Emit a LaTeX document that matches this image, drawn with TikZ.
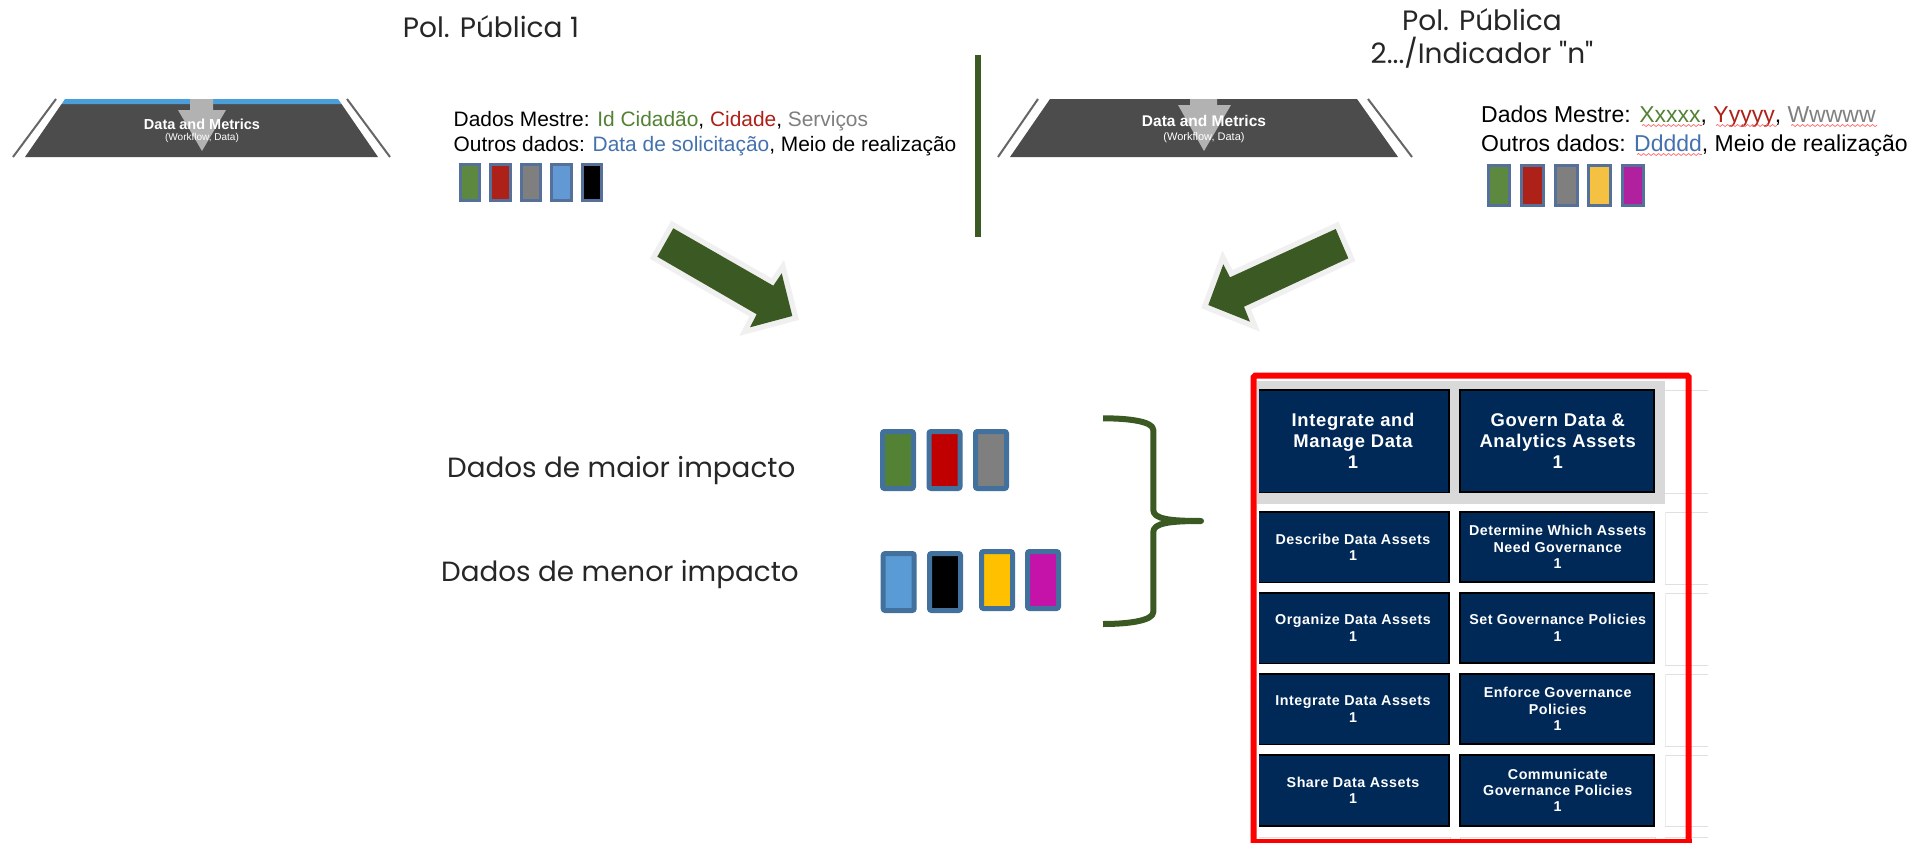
\documentclass[tikz,border=0pt]{standalone}
\usepackage{fontspec}
\usetikzlibrary{decorations.pathmorphing}
\setmainfont{Liberation Sans}
\newfontfamily\popf{Poppins}
\newfontfamily\cellf[LetterSpace=3.5]{Liberation Sans}
\definecolor{gdark}{HTML}{3B5A23}
\definecolor{gout}{HTML}{F0F0F0}
\definecolor{navy}{HTML}{012957}
\definecolor{swb}{HTML}{41719C}
\definecolor{swb2}{HTML}{557199}
\definecolor{tgreen}{HTML}{548235}
\definecolor{tred}{HTML}{AD2118}
\definecolor{tgrey}{HTML}{7F7F7F}
\definecolor{tblue}{HTML}{4472B0}
\definecolor{topblue}{HTML}{4A9FDB}
\tikzset{
  title/.style={font=\popf\fontsize{28}{33}\selectfont,align=center,text=black!85,inner sep=0pt,anchor=base},
  mid/.style={font=\popf\fontsize{27.8}{33}\selectfont,text=black!85,inner sep=0pt,anchor=base west},
  lefttxt/.style={font=\fontsize{20.9}{24}\selectfont,inner sep=0pt,anchor=base west},
  righttxt/.style={font=\fontsize{23}{27}\selectfont,inner sep=0pt,anchor=base west},
  sws/.style={draw=swb2,line width=3pt,minimum width=19.5pt,minimum height=36pt,inner sep=0pt},
  swr/.style={draw=swb2,line width=3pt,minimum width=21.5pt,minimum height=40pt,inner sep=0pt},
  swm/.style={draw=swb,line width=5pt,rounded corners=2pt,minimum width=31pt,minimum height=57pt,inner sep=0pt},
  trap/.style={fill=black!70},
  sideline/.style={draw=black!60,line width=2pt},
  flow/.style={fill=black!30},
  bigarrow/.style={fill=gdark,preaction={draw=gout,line width=11pt,miter limit=10}},
  dm/.style={text=white,font=\bfseries\fontsize{#1}{#1}\selectfont,inner sep=0pt},
  dms/.style={text=white,font=\fontsize{#1}{#1}\selectfont,inner sep=0pt},
  bigcell/.style={draw=black,line width=2pt,fill=navy},
  cellbig/.style={text=white,align=center,inner sep=0pt,font=\cellf\bfseries\fontsize{18.4}{21}\selectfont},
  cellsm/.style={text=white,align=center,inner sep=0pt,font=\cellf\bfseries\fontsize{14.3}{16.4}\selectfont},
  grid/.style={draw=black!12,line width=.7pt},
  gridv/.style={draw=black!7,line width=.7pt},
  wav/.style={draw=red!60,line width=.7pt,decorate,decoration={snake,amplitude=1pt,segment length=5pt}},
}
\begin{document}
\begin{tikzpicture}[x=1pt,y=-1pt]
\useasboundingbox[fill=white] (0,0) rectangle (1927,843);
% titles
\node[title] (t1) at (491,37.5) {Pol. Pública 1};
\node[title] (t2) at (1482,30.5) {Pol. Pública};
\node[title] (t3) at (1482,63.5) {2.../Indicador "n"};
% left trapezoid
\draw[sideline] (13,157) -- (56,99);
\draw[sideline] (347,99) -- (390,157);
\fill[trap] (61.6,104) -- (341.5,104) -- (378,157) -- (25,157) -- cycle;
\fill[topblue] (65,99) -- (338,99) -- (341.5,104) -- (61.6,104) -- cycle;
\fill[flow] (190,99) -- (213,99) -- (213,110) -- (226,110) -- (202,151) -- (178,110) -- (190,110) -- cycle;
\node[dm=14.5] (d1) at (202,124) {Data and Metrics};
\node[dms=10] (d1s) at (202,138) {(Workflow, Data)};
% right trapezoid
\draw[sideline] (998,157) -- (1038,99);
\draw[sideline] (1368,99) -- (1412,157);
\fill[trap] (1050,99) -- (1357,99) -- (1398,157) -- (1010,157) -- cycle;
\fill[flow] (1190,99) -- (1217,99) -- (1217,105) -- (1231,105) -- (1204,151) -- (1178,105) -- (1190,105) -- cycle;
\node[dm=15.5] (d2) at (1204,121) {Data and Metrics};
\node[dms=11] (d2s) at (1204,137.5) {(Workflow, Data)};
% left text
\node[lefttxt] (l1) at (453.5,126.5) {Dados Mestre: \textcolor{tgreen}{Id Cidadão}, \textcolor{tred}{Cidade}, \textcolor{tgrey}{Serviços}};
\node[lefttxt] (l2) at (453.5,151.5) {Outros dados: \textcolor{tblue}{Data de solicitação}, Meio de realização};
% right text
\node[righttxt] (r1) at (1481,122.5) {Dados Mestre: \textcolor{tgreen}{Xxxxx}, \textcolor{tred}{Yyyyy}, \textcolor{tgrey}{Wwwww}};
\node[righttxt] (r2) at (1481,151.5) {Outros dados: \textcolor{tblue}{Ddddd}, Meio de realização};
\draw[wav] (1642,125.5) -- (1702,125.5);
\draw[wav] (1716,125.5) -- (1777,125.5);
\draw[wav] (1791,125.5) -- (1877,125.5);
\draw[wav] (1637,154.5) -- (1702,154.5);
% left swatches
\node[sws,fill=tgreen!95!white] (a1) at (470,182) {};
\node[sws,fill=tred] (a2) at (500.5,182) {};
\node[sws,fill=tgrey] (a3) at (531,182) {};
\node[sws,fill={rgb,255:red,98;green,152;blue,212}] (a4) at (561.5,182) {};
\node[sws,fill=black] (a5) at (592,182) {};
% right swatches
\node[swr,fill=tgreen!95!white] (b1) at (1499,185.5) {};
\node[swr,fill=tred] (b2) at (1532.5,185.5) {};
\node[swr,fill=tgrey] (b3) at (1566.5,185.5) {};
\node[swr,fill={rgb,255:red,244;green,193;blue,66}] (b4) at (1599.5,185.5) {};
\node[swr,fill={rgb,255:red,176;green,32;blue,159}] (b5) at (1633,185.5) {};
% divider
\draw[gdark,line width=6pt] (978,55) -- (978,237);
% big arrows
\path[bigarrow] (673.3,228.3) -- (657.3,256.7) -- (756.7,314.3) -- (750,327.3) -- (792.3,316) -- (781.7,273.3) -- (773.3,285.7) -- cycle;
\path[bigarrow] (1335.7,229) -- (1348.3,258.3) -- (1244,306.7) -- (1250,321.7) -- (1208.3,305) -- (1223.3,264.3) -- (1230,277.3) -- cycle;
% middle labels
\node[mid] (m1) at (447,477) {Dados de maior impacto};
\node[mid] (m2) at (441,581) {Dados de menor impacto};
% middle swatches
\node[swm,fill=tgreen] (c1) at (898,460) {};
\node[swm,fill={rgb,255:red,192;green,0;blue,0}] (c2) at (944.5,460) {};
\node[swm,fill=tgrey] (c3) at (991,460) {};
\node[swm,fill={rgb,255:red,91;green,155;blue,213}] (e1) at (898.7,582) {};
\node[swm,fill=black] (e2) at (945,582) {};
\node[swm,fill={rgb,255:red,255;green,192;blue,0}] (e3) at (997,580) {};
\node[swm,fill={rgb,255:red,197;green,18;blue,168}] (e4) at (1043,580) {};
% brace
\draw[gdark,line width=6pt,line join=round] (1103,418.3) .. controls (1127,418.3) and (1153.3,421) .. (1153.3,430) -- (1153.3,510) .. controls (1153.3,519) and (1170,521) .. (1201,521) .. controls (1170,521) and (1153.3,523) .. (1153.3,532) -- (1153.3,612) .. controls (1153.3,621) and (1127,624) .. (1103,624);
% grid behind the table
\foreach \yy in {390,493,512,584,593,665,674,746,755,826,837} \draw[grid] (1665,\yy) -- (1708,\yy);
\foreach \ya/\yb in {512/584,593/665,674/746,755/826} \draw[gridv] (1665,\ya) -- (1665,\yb);
\draw[grid] (1259,837) -- (1450,837);
\draw[grid] (1460,837) -- (1655,837);
\draw[grid] (1450,837) -- (1450,843);
\draw[grid] (1460,837) -- (1460,843);
\draw[grid] (1655,837) -- (1655,843);
% table
\fill[black!15] (1257,380.7) rectangle (1665,504);
\draw[bigcell] (1259,390.3) -- (1449,390.3) -- (1449,492.3) -- (1259,492.3);
\fill[navy] (1259,391) rectangle (1448,491.5);
\node[bigcell,minimum width=194pt,minimum height=102pt,inner sep=0pt] (k0) at (1556.7,441.3) {};
\node[cellbig] (n1) at (1353,441.3) {Integrate and\\Manage Data\\1};
\node[cellbig] (n2) at (1557.7,441.3) {Govern Data \&\\Analytics Assets\\1};
\foreach \nm/\cy in {p/547.2,q/628,r/709,s/790.3}{
  \draw[bigcell] (1259,\cy-35.2) -- (1449,\cy-35.2) -- (1449,\cy+35.2) -- (1259,\cy+35.2);
  \fill[navy] (1259,\cy-34.5) rectangle (1448,\cy+34.5);
  \node[bigcell,minimum width=194pt,minimum height=70.4pt,inner sep=0pt] (\nm) at (1556.7,\cy) {};
}
\node[cellsm] (p1) at (1353,547.2) {Describe Data Assets\\1};
\node[cellsm] (p2) at (1557.7,547.2) {Determine Which Assets\\Need Governance\\1};
\node[cellsm] (q1) at (1353,628) {Organize Data Assets\\1};
\node[cellsm] (q2) at (1557.7,628) {Set Governance Policies\\1};
\node[cellsm] (r1t) at (1353,709) {Integrate Data Assets\\1};
\node[cellsm] (r2t) at (1557.7,709) {Enforce Governance\\Policies\\1};
\node[cellsm] (s1) at (1353,790.3) {Share Data Assets\\1};
\node[cellsm] (s2) at (1557.7,790.3) {Communicate\\Governance Policies\\1};
% red frame
\draw[red,line width=6pt,rounded corners=1.5pt] (1253.7,860) -- (1253.7,375.7) -- (1688.7,375.7) -- (1688.7,860);
\draw[red,line width=6pt] (1250.7,842) -- (1691.7,842);
\end{tikzpicture}
\end{document}
